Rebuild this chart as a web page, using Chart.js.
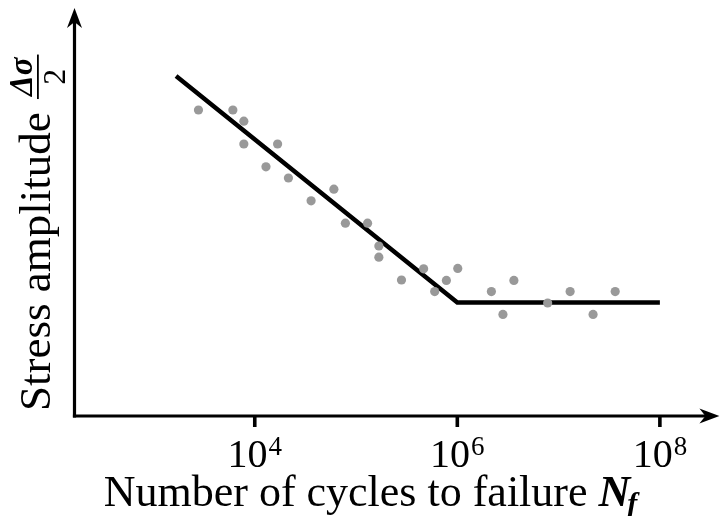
<!DOCTYPE html>
<html><head><meta charset="utf-8">
<script src="https://cdn.jsdelivr.net/npm/chart.js@4/dist/chart.umd.min.js"></script>
<style>html,body{margin:0;padding:0;background:#fff}</style>
</head><body>
<div style="width:724px;height:516px"><canvas id="c" width="724" height="516"></canvas></div>
<script>
// Observed test points: cycles to failure and stress amplitude (arbitrary units)
const cyclesObserved = [2780, 6080, 7800, 7800, 16800, 12900, 21500, 36000, 60400, 78500, 130000, 168000, 168000, 281000, 465000, 598000, 780000, 1010000, 2170000, 2820000, 3620000, 7800000, 13000000, 21900000, 36200000];
const stressObserved = [76.5, 76.5, 73.7, 68.0, 68.0, 62.3, 59.5, 53.8, 56.7, 48.2, 48.2, 42.5, 39.7, 34.0, 36.8, 31.1, 33.9, 36.9, 31.1, 25.4, 33.9, 28.25, 31.1, 25.4, 31.1];
// Fitted S-N curve (sloped part + endurance limit)
const cyclesFit = [1670, 1000000, 100000000];
const stressFit = [85.0, 28.4, 28.4];
// Axis tick labels
const tickValues = [10000, 1000000, 100000000];
const tickBase = ['10', '10', '10'];
const tickExp = ['4', '6', '8'];
const xTitle = 'Number of cycles to failure ';
const xSymbol = 'N';
const xSymbolSub = 'f';
const yTitle = 'Stress amplitude ';
const yFracNum = 'Δσ';
const yFracDen = '2';

const SERIF = '"Liberation Serif", "DejaVu Serif", serif';

function arrowHead(ctx, tipX, tipY, dirX, dirY) {
  const L = 20, W = 7.5, notch = 6;
  const px = -dirY, py = dirX;
  ctx.beginPath();
  ctx.moveTo(tipX, tipY);
  ctx.lineTo(tipX - dirX * L + px * W, tipY - dirY * L + py * W);
  ctx.lineTo(tipX - dirX * (L - notch), tipY - dirY * (L - notch));
  ctx.lineTo(tipX - dirX * L - px * W, tipY - dirY * L - py * W);
  ctx.closePath();
  ctx.fill();
}

const axesPlugin = {
  id: 'axesPlugin',
  afterDraw(chart) {
    const ctx = chart.ctx;
    const xs = chart.scales.x, ys = chart.scales.y;
    const x0 = xs.left, y0 = ys.bottom;
    ctx.save();
    ctx.strokeStyle = '#000';
    ctx.fillStyle = '#000';
    ctx.lineWidth = 3.2;
    ctx.lineCap = 'butt';
    // y axis
    ctx.beginPath();
    ctx.moveTo(x0, y0 + 1.6);
    ctx.lineTo(x0, ys.top + 12);
    ctx.stroke();
    arrowHead(ctx, x0, ys.top, 0, -1);
    // x axis
    ctx.beginPath();
    ctx.moveTo(x0 - 1.6, y0);
    ctx.lineTo(xs.right - 12, y0);
    ctx.stroke();
    arrowHead(ctx, xs.right, y0, 1, 0);
    // ticks + labels
    ctx.lineWidth = 3.6;
    tickValues.forEach((v, i) => {
      const px = xs.getPixelForValue(v);
      ctx.beginPath();
      ctx.moveTo(px, y0);
      ctx.lineTo(px, y0 + 11);
      ctx.stroke();
      ctx.font = '40px ' + SERIF;
      const bw = ctx.measureText(tickBase[i]).width;
      ctx.font = '27px ' + SERIF;
      const ew = ctx.measureText(tickExp[i]).width;
      const start = px - (bw + ew + 1) / 2;
      ctx.textBaseline = 'alphabetic';
      ctx.textAlign = 'left';
      ctx.font = '40px ' + SERIF;
      ctx.fillText(tickBase[i], start, 467);
      ctx.font = '27px ' + SERIF;
      ctx.fillText(tickExp[i], start + bw + 1, 455);
    });
    // x title
    ctx.font = '44px ' + SERIF;
    const tw = ctx.measureText(xTitle).width;
    ctx.font = 'italic bold 44px ' + SERIF;
    const nw = ctx.measureText(xSymbol).width;
    ctx.font = 'italic bold 30px ' + SERIF;
    const fw = ctx.measureText(xSymbolSub).width;
    const total = tw + nw + fw;
    let sx = 372 - total / 2;
    ctx.font = '44px ' + SERIF;
    ctx.fillText(xTitle, sx, 506);
    ctx.font = 'italic bold 44px ' + SERIF;
    ctx.fillText(xSymbol, sx + tw, 506);
    ctx.font = 'italic bold 30px ' + SERIF;
    ctx.fillText(xSymbolSub, sx + tw + nw - 3, 513);
    // y title (rotated)
    ctx.save();
    ctx.translate(50, 411);
    ctx.rotate(-Math.PI / 2);
    ctx.font = '45px ' + SERIF;
    ctx.fillText(yTitle, 0, 0);
    const yw = ctx.measureText(yTitle).width;
    ctx.font = 'bold italic 33px ' + SERIF;
    const numW = ctx.measureText(yFracNum).width;
    ctx.font = '32px ' + SERIF;
    const denW = ctx.measureText(yFracDen).width;
    const fracW = Math.max(numW, denW) + 6;
    const fx = yw + 2;
    ctx.fillRect(fx, -13, fracW, 1.8);
    ctx.font = 'bold italic 33px ' + SERIF;
    ctx.fillText(yFracNum, fx + (fracW - numW) / 2, -18);
    ctx.font = '32px ' + SERIF;
    ctx.fillText(yFracDen, fx + (fracW - denW) / 2, 15);
    ctx.restore();
    ctx.restore();
  }
};

new Chart(document.getElementById('c'), {
  type: 'scatter',
  data: {
    datasets: [
      {
        label: 'Observed',
        data: cyclesObserved.map((c, i) => ({ x: c, y: stressObserved[i] })),
        backgroundColor: '#999999',
        borderWidth: 0,
        pointRadius: 4.6,
        order: 0
      },
      {
        label: 'S-N curve',
        type: 'line',
        data: cyclesFit.map((c, i) => ({ x: c, y: stressFit[i] })),
        borderColor: '#000',
        borderWidth: 4.5,
        pointRadius: 0,
        fill: false,
        tension: 0,
        borderCapStyle: 'butt',
        borderJoinStyle: 'miter',
        order: 1
      }
    ]
  },
  options: {
    responsive: false,
    animation: false,
    devicePixelRatio: 1,
    layout: { padding: { left: 74.5, right: 0, top: 8, bottom: 100 } },
    scales: {
      x: { type: 'logarithmic', min: 166, max: 3.87e8, display: false },
      y: { type: 'linear', min: 0, max: 102, display: false }
    },
    plugins: { legend: { display: false }, tooltip: { enabled: false } }
  },
  plugins: [axesPlugin]
});
</script>
</body></html>
